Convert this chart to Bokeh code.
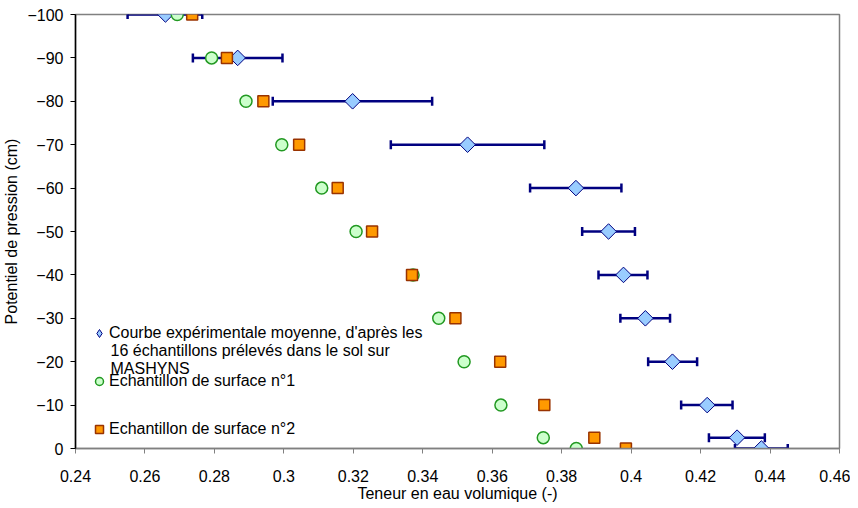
from bokeh.plotting import figure
from bokeh.models import (Range1d, FixedTicker, ColumnDataSource, Whisker, TeeHead,
                          Legend, LegendItem, Label)
from bokeh.embed import file_html
from bokeh.resources import INLINE

# ---- data ----
pression = [-100, -90, -80, -70, -60, -50, -40, -30, -20, -10, -2.5, 0]
moyenne = [0.2659, 0.2867, 0.3198, 0.3529, 0.3841, 0.3935, 0.3978, 0.4041, 0.4119, 0.4219, 0.4305, 0.4375]
moyenne_min = [0.2550, 0.2738, 0.2968, 0.3308, 0.3709, 0.3859, 0.3906, 0.3969, 0.4049, 0.4144, 0.4224, 0.4299]
moyenne_max = [0.2765, 0.2996, 0.3427, 0.3750, 0.3972, 0.4011, 0.4047, 0.4112, 0.4190, 0.4292, 0.4385, 0.4451]
echantillon1 = [0.2693, 0.2792, 0.2891, 0.2994, 0.3109, 0.3208, 0.3372, 0.3446, 0.3519, 0.3625, 0.3747, 0.3842]
echantillon2 = [0.2736, 0.2836, 0.2941, 0.3044, 0.3155, 0.3254, 0.3369, 0.3494, 0.3623, 0.3750, 0.3894, 0.3985]

x_ticks = [0.24, 0.26, 0.28, 0.30, 0.32, 0.34, 0.36, 0.38, 0.40, 0.42, 0.44, 0.46]
x_tick_labels = ["0.24", "0.26", "0.28", "0.3", "0.32", "0.34", "0.36", "0.38", "0.4", "0.42", "0.44", "0.46"]
y_ticks = [-100, -90, -80, -70, -60, -50, -40, -30, -20, -10, 0]

legend_line1 = "Courbe expérimentale moyenne, d'après les"
legend_rest = "16 échantillons prélevés dans le sol sur\nMASHYNS"
legend_e1 = "Echantillon de surface n°1"
legend_e2 = "Echantillon de surface n°2"

FONT = "Liberation Sans"
FS = "16px"
NAVY = "#000080"

p = figure(frame_width=764, frame_height=434, output_backend="svg", toolbar_location=None,
           x_range=Range1d(0.24, 0.46), y_range=Range1d(0, -100),
           min_border_left=67, min_border_right=11, min_border_top=14, min_border_bottom=59)

p.background_fill_color = "white"
p.border_fill_color = "white"
p.outline_line_color = "#808080"
p.outline_line_width = 1.5
p.xgrid.visible = False
p.ygrid.visible = False

# axes
p.xaxis.ticker = FixedTicker(ticks=x_ticks)
p.xaxis.major_label_overrides = {t: l for t, l in zip(x_ticks, x_tick_labels)}
p.yaxis.ticker = FixedTicker(ticks=y_ticks)
for ax in (p.xaxis[0], p.yaxis[0]):
    ax.major_tick_in = 0
    ax.major_tick_out = 5
    ax.minor_tick_in = 0
    ax.minor_tick_out = 0
    ax.major_label_text_font = FONT
    ax.major_label_text_font_size = FS
    ax.major_label_text_color = "black"
    ax.axis_label_text_font = FONT
    ax.axis_label_text_font_size = FS
    ax.axis_label_text_font_style = "normal"
    ax.axis_label_text_color = "black"
p.xaxis.axis_line_color = "#808080"
p.xaxis.major_tick_line_color = "#808080"
p.xaxis.axis_line_width = 1.5
p.yaxis.axis_line_color = "black"
p.yaxis.major_tick_line_color = "black"
p.yaxis.axis_line_width = 1.5
p.xaxis.axis_label = "Teneur en eau volumique (-)"
p.yaxis.axis_label = "Potentiel de pression (cm)"
p.xaxis.major_label_standoff = 16
p.xaxis.axis_label_standoff = 0
p.yaxis.major_label_standoff = 7
p.yaxis.axis_label_standoff = 4

src = ColumnDataSource(dict(y=pression, m=moyenne, lo=moyenne_min, hi=moyenne_max,
                            e1=echantillon1, e2=echantillon2))

wh = Whisker(source=src, base="y", lower="lo", upper="hi", dimension="width",
             line_color=NAVY, line_width=2.5,
             lower_head=TeeHead(size=9, line_color=NAVY, line_width=2.5),
             upper_head=TeeHead(size=9, line_color=NAVY, line_width=2.5))
p.add_layout(wh)

r_mean = p.scatter("m", "y", source=src, marker="square", angle=0.785398, size=11,
                   fill_color="#99ccff", line_color=NAVY, line_width=1)
r_e1 = p.scatter("e1", "y", source=src, marker="circle", size=12,
                 fill_color="#ccffcc", line_color="#229922", line_width=1.5)
r_e2 = p.scatter("e2", "y", source=src, marker="square", size=11,
                 fill_color="#ff9900", line_color="#993300", line_width=1.5)
# legend key for the mean curve: diamond symbol, holds no plotted point
r_mean_key = p.scatter(x=[float("nan")], y=[float("nan")], marker="diamond", size=11,
                       fill_color="#99ccff", line_color=NAVY, line_width=1)

legend = Legend(items=[
    LegendItem(label=legend_line1, renderers=[r_mean_key]),
    LegendItem(label=legend_e1, renderers=[r_e1]),
    LegendItem(label=legend_e2, renderers=[r_e2]),
], location=(14, 7))
legend.border_line_color = None
legend.background_fill_alpha = 0
legend.label_text_font = FONT
legend.label_text_font_size = FS
legend.label_text_color = "black"
legend.glyph_width = 20
legend.glyph_height = 24
legend.label_standoff = 0
legend.padding = 0
legend.margin = 0
legend.spacing = 24
p.add_layout(legend)

extra = Label(x=35, y=107, x_units="screen", y_units="screen", text=legend_rest,
              text_font=FONT, text_font_size=FS, text_color="black",
              text_baseline="top", text_align="left", text_line_height=1.06)
p.add_layout(extra)

open("out.html", "w").write(file_html(p, INLINE))
